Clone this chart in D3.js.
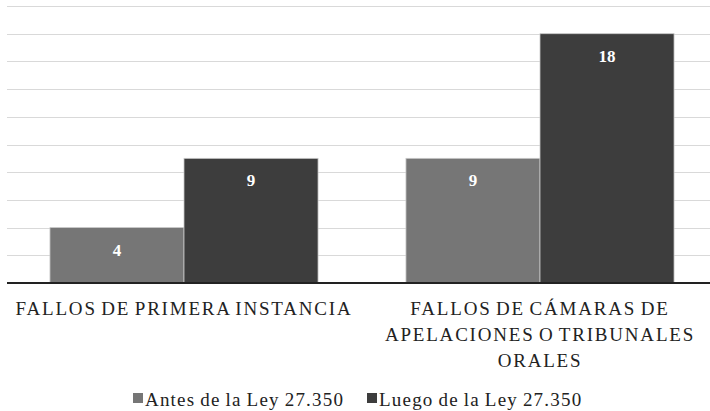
<!DOCTYPE html>
<html>
<head>
<meta charset="utf-8">
<script src="https://cdn.jsdelivr.net/npm/d3@7"></script>
<style>
  body { margin: 0; background: #fff; }
  svg { display: block; }
</style>
</head>
<body>
<svg id="chart" width="710" height="411" font-family="'Liberation Serif', 'DejaVu Serif', serif"></svg>
<script>
const width = 710;
const height = 411;

// data
const categories = ["FALLOS DE PRIMERA INSTANCIA", "FALLOS DE CÁMARAS DE APELACIONES O TRIBUNALES ORALES"];
const category_lines = [
  ["FALLOS DE PRIMERA INSTANCIA"],
  ["FALLOS DE CÁMARAS DE", "APELACIONES O TRIBUNALES", "ORALES"]
];
const series = ["Antes de la Ley 27.350", "Luego de la Ley 27.350"];
const antes = [4, 9];
const luego = [9, 18];
const y_ticks = [0, 2, 4, 6, 8, 10, 12, 14, 16, 18, 20];
const colors = ["#767676", "#3d3d3d"];

const plot_left = 6;
const plot_right = 718; // the plot runs a bit past the right edge of the picture
const baseline = 283;
const plot_top = 6;

let svg = d3.select("#chart");

let x0 = d3.scaleBand()
	.domain(categories)
	.range([plot_left, plot_right])
	.paddingInner(0.247)
	.paddingOuter(0.1235);

let x1 = d3.scaleBand()
	.domain(series)
	.range([0, x0.bandwidth()]);

let y = d3.scaleLinear()
	.domain([0, 20])
	.range([baseline, plot_top]);

// gridlines
svg.append("g")
	.selectAll("line")
	.data(y_ticks.filter(d => d > 0))
	.enter().append("line")
	.attr("x1", 7)
	.attr("x2", width)
	.attr("y1", d => Math.round(y(d)) + 0.5)
	.attr("y2", d => Math.round(y(d)) + 0.5)
	.attr("stroke", "#d9d9d9")
	.attr("stroke-width", 1.2);

// bars
let rows = [];
categories.forEach((c, i) => {
	rows.push({cat: c, s: series[0], v: antes[i], k: 0});
	rows.push({cat: c, s: series[1], v: luego[i], k: 1});
});

svg.append("g")
	.selectAll("rect")
	.data(rows)
	.enter().append("rect")
	.attr("x", d => x0(d.cat) + x1(d.s))
	.attr("y", d => y(d.v))
	.attr("width", x1.bandwidth())
	.attr("height", d => baseline - y(d.v))
	.attr("fill", d => colors[d.k])
	.attr("stroke", "#c8c8c8")
	.attr("stroke-width", 0.8);

// value labels
svg.append("g")
	.selectAll("text")
	.data(rows)
	.enter().append("text")
	.attr("x", d => x0(d.cat) + x1(d.s) + x1.bandwidth() / 2)
	.attr("y", d => y(d.v) + 28)
	.attr("text-anchor", "middle")
	.attr("fill", "#ffffff")
	.attr("font-weight", "bold")
	.attr("font-size", 17)
	.text(d => d.v);

// baseline axis
svg.append("line")
	.attr("x1", 7)
	.attr("x2", width)
	.attr("y1", baseline)
	.attr("y2", baseline)
	.attr("stroke", "#222")
	.attr("stroke-width", 2);

// category labels
categories.forEach((c, i) => {
	let t = svg.append("text")
		.attr("text-anchor", "middle")
		.attr("fill", "#222")
		.attr("font-size", 19)
		.attr("letter-spacing", 1.8)
		.attr("word-spacing", -2);
	category_lines[i].forEach((line, j) => {
		t.append("tspan")
			.attr("x", x0(c) + x0.bandwidth() / 2)
			.attr("y", 315 + j * 26)
			.text(line);
	});
});

// legend
let legend_x = [133, 367];
let legend = svg.append("g");
series.forEach((s, i) => {
	legend.append("rect")
		.attr("x", legend_x[i])
		.attr("y", 393)
		.attr("width", 10)
		.attr("height", 10)
		.attr("fill", colors[i]);
	legend.append("text")
		.attr("x", legend_x[i] + 12)
		.attr("y", 406)
		.attr("fill", "#222")
		.attr("font-size", 19)
		.attr("letter-spacing", 1.2)
		.attr("word-spacing", -1)
		.text(s);
});
</script>
</body>
</html>
